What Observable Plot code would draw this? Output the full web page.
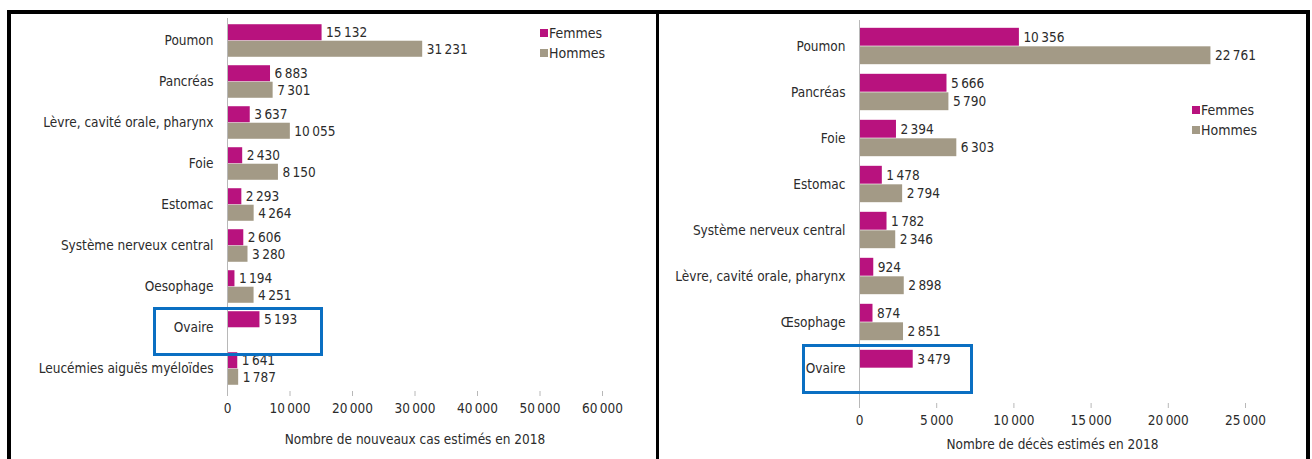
<!DOCTYPE html>
<html><head><meta charset="utf-8">
<script src="https://cdn.jsdelivr.net/npm/d3@7"></script>
<script src="https://cdn.jsdelivr.net/npm/@observablehq/plot@0.6"></script>
<style>
html,body{margin:0;padding:0;background:#fff;}
body{width:1312px;height:459px;overflow:hidden;position:relative;font-family:"Liberation Sans Narrow","DejaVu Sans Condensed","Roboto",sans-serif;color:#2b2b2b;}
.panel{position:absolute;top:0;}
.frame{position:absolute;left:7px;top:10px;width:1303px;height:470px;box-sizing:border-box;border:4px solid #000;}
.divider{position:absolute;left:656px;top:10px;width:3px;height:460px;background:#000;}
.legend{position:absolute;font-size:14px;color:#2b2b2b;line-height:20px;}
.legend .row{display:flex;align-items:center;}
.legend .sw{width:8px;height:8px;margin-right:1px;}
.hl{position:absolute;box-sizing:border-box;border:3px solid #0a6fc2;}
</style></head><body>
<div class="frame"></div>
<div class="divider"></div>
<script>
const series = ["Femmes", "Hommes"];
const seriesColors = ["#b8127e", "#a39a86"];

const casCategories = ["Poumon", "Pancréas", "Lèvre, cavité orale, pharynx", "Foie", "Estomac", "Système nerveux central", "Oesophage", "Ovaire", "Leucémies aiguës myéloïdes"];
const casFemmes = [15132, 6883, 3637, 2430, 2293, 2606, 1194, 5193, 1641];
const casHommes = [31231, 7301, 10055, 8150, 4264, 3280, 4251, null, 1787];
const casTicks = [0, 10000, 20000, 30000, 40000, 50000, 60000];
const casTitle = "Nombre de nouveaux cas estimés en 2018";

const decesCategories = ["Poumon", "Pancréas", "Foie", "Estomac", "Système nerveux central", "Lèvre, cavité orale, pharynx", "Œsophage", "Ovaire"];
const decesFemmes = [10356, 5666, 2394, 1478, 1782, 924, 874, 3479];
const decesHommes = [22761, 5790, 6303, 2794, 2346, 2898, 2851, null];
const decesTicks = [0, 5000, 10000, 15000, 20000, 25000];
const decesTitle = "Nombre de décès estimés en 2018";

const fr = d3.formatLocale({decimal: ",", thousands: "\u2009", grouping: [3], currency: ["", " €"]});
const fmt = fr.format(",d");

function makePanel(cfg) {
  const rows = [];
  cfg.cats.forEach((c, i) => {
    rows.push({cat: c, sex: series[0], value: cfg.f[i]});
    if (cfg.h[i] != null) rows.push({cat: c, sex: series[1], value: cfg.h[i]});
  });
  const F = rows.filter(d => d.sex === series[0]);
  const H = rows.filter(d => d.sex === series[1]);
  const step = (cfg.height - cfg.mt - cfg.mb - cfg.inB) / cfg.cats.length;
  const bh = cfg.bh;
  const plot = Plot.plot({
    width: cfg.width, height: cfg.height,
    marginLeft: cfg.ml, marginRight: cfg.mr, marginTop: cfg.mt, marginBottom: cfg.mb,
    style: {fontFamily: '"Liberation Sans Narrow","DejaVu Sans Condensed",sans-serif', fontSize: "13.5px", background: "transparent", color: "#2b2b2b", overflow: "visible"},
    x: {domain: [cfg.ticks[0], cfg.ticks[cfg.ticks.length - 1]]},
    y: {domain: cfg.cats, padding: 0, insetBottom: cfg.inB},
    color: {domain: series, range: seriesColors},
    marks: [
      Plot.barX(F, {x: "value", y: "cat", fill: "sex", insetTop: step / 2 - bh, insetBottom: step / 2}),
      Plot.barX(H, {x: "value", y: "cat", fill: "sex", insetTop: step / 2, insetBottom: step / 2 - bh}),
      Plot.ruleX([0], {stroke: "#b8b8b8"}),
      Plot.text(F, {x: "value", y: "cat", text: d => fmt(d.value), dx: 4, dy: -bh / 2, textAnchor: "start", fill: "#2b2b2b", fontSize: 13.5}),
      Plot.text(H, {x: "value", y: "cat", text: d => fmt(d.value), dx: 4, dy: bh / 2, textAnchor: "start", fill: "#2b2b2b", fontSize: 13.5}),
      Plot.axisY({tickSize: 0, tickPadding: 14, label: null, fill: "#2b2b2b", fontSize: 13.5}),
      Plot.axisX({ticks: cfg.ticks, tickFormat: fmt, tickSize: 5, tickPadding: 7, stroke: "#b8b8b8", fill: "#2b2b2b", line: true,
        label: cfg.title, labelAnchor: "center", labelOffset: cfg.lo, labelArrow: "none", fontSize: 13.5})
    ]
  });
  const wrap = document.createElement("div");
  wrap.className = "panel";
  wrap.style.left = cfg.left + "px";
  wrap.appendChild(plot);
  document.body.appendChild(wrap);

  const lg = document.createElement("div");
  lg.className = "legend";
  lg.style.left = (cfg.left + cfg.legX) + "px";
  lg.style.top = cfg.legY + "px";
  series.forEach((s, i) => {
    const r = document.createElement("div");
    r.className = "row";
    const sw = document.createElement("span");
    sw.className = "sw";
    sw.style.background = seriesColors[i];
    const t = document.createElement("span");
    t.textContent = s;
    r.appendChild(sw); r.appendChild(t);
    lg.appendChild(r);
  });
  document.body.appendChild(lg);

  const hb = document.createElement("div");
  hb.className = "hl";
  hb.style.left = (cfg.left + cfg.box[0]) + "px";
  hb.style.top = cfg.box[1] + "px";
  hb.style.width = cfg.box[2] + "px";
  hb.style.height = cfg.box[3] + "px";
  document.body.appendChild(hb);
}

makePanel({cats: casCategories, f: casFemmes, h: casHommes, ticks: casTicks, title: casTitle,
  left: 0, width: 656, height: 459, ml: 227, mr: 54, mt: 18, mb: 68, inB: 0, bh: 16.5, lo: 52,
  legX: 540, legY: 23, box: [153, 307, 170, 49]});
makePanel({cats: decesCategories, f: decesFemmes, h: decesHommes, ticks: decesTicks, title: decesTitle,
  left: 656, width: 656, height: 459, ml: 203, mr: 67, mt: 20, mb: 56, inB: 10, bh: 18.5, lo: 45,
  legX: 536, legY: 100, box: [146, 344, 171, 50]});
</script>
</body></html>
